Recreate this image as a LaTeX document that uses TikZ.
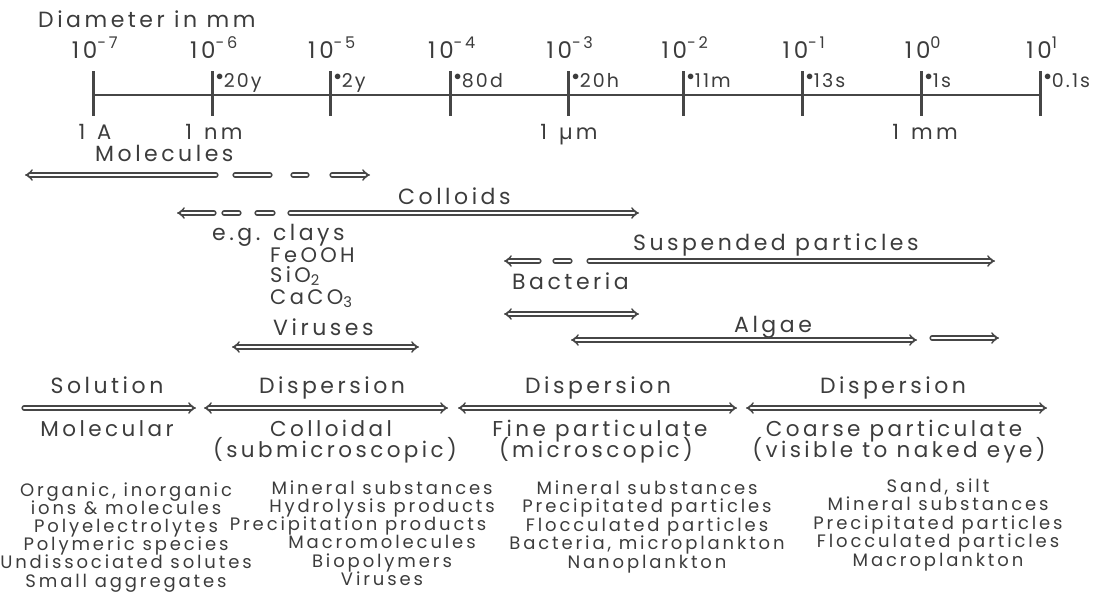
\documentclass[tikz,border=0pt]{standalone}
\usepackage{fontspec}
\setmainfont{Poppins}[LetterSpace=16]
\newfontfamily\plainf{Poppins}[LetterSpace=11]
\usetikzlibrary{arrows.meta}
\definecolor{ink}{RGB}{60,60,60}
\definecolor{aline}{RGB}{70,70,70}
\tikzset{
  txt/.style={font=\fontsize{22}{24}\selectfont, text=ink, inner sep=0pt},
  lw/.style={txt, anchor=base west},
  lc/.style={txt, anchor=base},
  chem/.style={font=\fontsize{21}{23}\selectfont, text=ink, inner sep=0pt, anchor=base west},
  expo/.style={font=\fontsize{23}{25}\selectfont, text=ink, inner sep=0pt, anchor=base},
  timel/.style={font=\plainf\fontsize{19}{21}\selectfont, text=ink, inner sep=0pt, anchor=base west},
  unitl/.style={font=\fontsize{21}{23}\selectfont, text=ink, inner sep=0pt, anchor=base},
  listt/.style={font=\fontsize{18}{20}\selectfont, text=ink, inner sep=0pt, anchor=base},
  pair/.style={font=\fontsize{21.5}{23}\selectfont, text=ink, inner sep=0pt, anchor=base},
  darr/.style={draw=aline, line width=1.4pt, double=white, double distance=2.4pt, line cap=round},
  axisl/.style={draw=aline, line width=2.6pt},
  tick/.style={draw=aline, line width=3pt},
}
\begin{document}
\begin{tikzpicture}[x=1pt,y=-1pt]
\useasboundingbox (0,0) rectangle (1113,595);
% title
\node[lw] (title) at (38,27) {Diameter in mm};
% axis
\draw[axisl] (93,95) -- (1040,95);
\foreach \x/\e/\t [count=\i] in {93/-7/,212/-6/20y,330/-5/2y,450/-4/80d,568/-3/20h,683/-2/11m,802/-1/13s,921/0/1s,1040/1/0.1s}{
  \draw[tick] (\x,71) -- (\x,116);
  \node[expo] (e\i) at (\x+2,58) {10\textsuperscript{\e}};
  \ifx\t\empty\else
  \node[timel] (t\i) at (\x+4,87) {\smash{$^{\bullet}$}\t};
  \fi
}
\node[unitl] (u1) at (95,139) {1\hspace{3pt} A};
\node[unitl] (u2) at (214,139) {1\hspace{3pt} nm};
\node[unitl] (u3) at (569,139) {1\hspace{3pt} µm};
\node[unitl] (u4) at (925,139) {1\hspace{3pt} mm};
% Molecules
\node[lw] (mol) at (95,161) {Molecules};
\draw[darr,{Implies}-] (25,175) -- (216,175);
\draw[darr] (235,175) -- (270,175);
\draw[darr] (293,175) -- (307,175);
\draw[darr,-{Implies}] (332,175) -- (370,175);
% Colloids
\node[lw] (col) at (398,204) {Colloids};
\draw[darr,{Implies}-] (177,213) -- (214,213);
\draw[darr] (224,213) -- (239,213);
\draw[darr] (257,213) -- (273,213);
\draw[darr,-{Implies}] (290,213) -- (639,213);
% examples
\node[lw] (eg) at (212,240) {e.g. clays};
\node[chem] (fe) at (270,262) {FeOOH};
\node[chem] (si) at (270,282) {SiO\textsubscript{\smash{2}}};
\node[chem] (ca) at (270,304) {CaCO\textsubscript{\smash{3}}};
% Suspended
\node[lw] (sus) at (633,250) {Suspended particles};
\draw[darr,{Implies}-] (504,261) -- (539,261);
\draw[darr] (555,261) -- (570,261);
\draw[darr,-{Implies}] (589,261) -- (995,261);
% Bacteria
\node[lw] (bac) at (512,289) {Bacteria};
\draw[darr,{Implies}-{Implies}] (504,314) -- (639,314);
% Viruses
\node[lw] (vir) at (273,335) {Viruses};
\draw[darr,{Implies}-{Implies}] (232,347) -- (419,347);
% Algae
\node[lw] (alg) at (734,332) {Algae};
\draw[darr,{Implies}-{Implies}] (571,340) -- (917,340);
\draw[darr,-{Implies}] (932,338) -- (999,338);
% classes row
\node[lc] (sol) at (107,393) {Solution};
\node[lc] (d1) at (332,393) {Dispersion};
\node[lc] (d2) at (598,393) {Dispersion};
\node[lc] (d3) at (893,393) {Dispersion};
\draw[darr,-{Implies}] (24,408) -- (196,408);
\draw[darr,{Implies}-{Implies}] (204,408) -- (448,408);
\draw[darr,{Implies}-{Implies}] (458,408) -- (737,408);
\draw[darr,{Implies}-{Implies}] (746,408) -- (1047,408);
\node[pair] (m1) at (107,436) {Molecular};
\node[pair] (m2) at (331,436) {Colloidal};
\node[pair] (m2b) at (335,457) {(submicroscopic)};
\node[pair] (m3) at (600,436) {Fine particulate};
\node[pair] (m3b) at (596,457) {(microscopic)};
\node[pair] (m4) at (894,436) {Coarse particulate};
\node[pair] (m4b) at (899,457) {(visible to naked eye)};
% lists
\foreach \t [count=\i] in {{Organic, inorganic},{ions \& molecules},Polyelectrolytes,Polymeric species,Undissociated solutes,Small aggregates}
  \node[listt] (a\i) at (126,496+18.2*\i-18.2) {\t};
\foreach \t [count=\i] in {Mineral substances,Hydrolysis products,{Precipitation products\hspace*{48pt}},Macromolecules,Biopolymers,Viruses}
  \node[listt] (b\i) at (382,494+18.3*\i-18.3) {\t};
\foreach \t [count=\i] in {Mineral substances,Precipitated particles,Flocculated particles,{Bacteria, microplankton},Nanoplankton}
  \node[listt] (c\i) at (647,494+18.5*\i-18.5) {\t};
\foreach \t [count=\i] in {{Sand, silt},Mineral substances,Precipitated particles,Flocculated particles,Macroplankton}
  \node[listt] (d\i) at (938,492+18.5*\i-18.5) {\t};
\end{tikzpicture}
\end{document}
